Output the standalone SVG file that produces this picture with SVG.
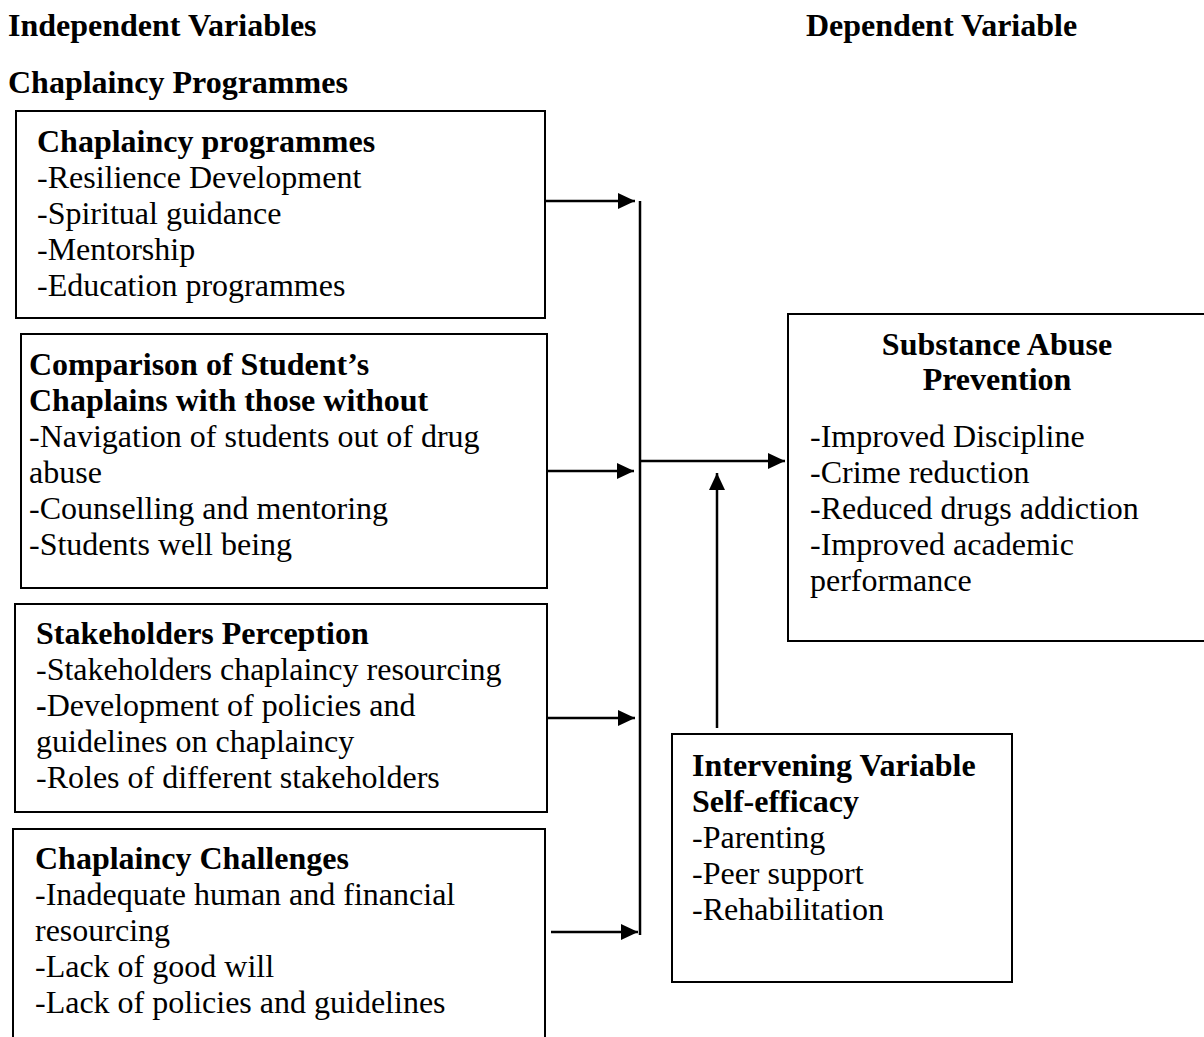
<svg xmlns="http://www.w3.org/2000/svg" width="1204" height="1037" viewBox="0 0 1204 1037">
<style>
text{font-family:"Liberation Serif","Times New Roman",serif;font-size:32px;fill:#000}
.b{font-weight:bold}
.box{fill:none;stroke:#000;stroke-width:2}
.con{stroke:#000;stroke-width:2.5;fill:none}
</style>
<defs>
<marker id="ah" markerUnits="userSpaceOnUse" markerWidth="20" markerHeight="18" refX="17" refY="8" orient="auto">
<path d="M0,0 L17,8 L0,16 z" fill="#000"/>
</marker>
</defs>
<rect width="1204" height="1037" fill="#fff"/>
<g id="headers">
<text class="b" x="8" y="36">Independent Variables</text>
<text class="b" x="806" y="36">Dependent Variable</text>
<text class="b" x="8" y="93">Chaplaincy Programmes</text>
</g>
<g id="node-programmes">
<rect class="box" x="16" y="111" width="529" height="207"/>
<text class="b" x="37" y="152">Chaplaincy programmes</text>
<text x="37" y="188">-Resilience Development</text>
<text x="37" y="224">-Spiritual guidance</text>
<text x="37" y="260">-Mentorship</text>
<text x="37" y="296">-Education programmes</text>
</g>
<g id="node-comparison">
<rect class="box" x="21" y="334" width="526" height="254"/>
<text class="b" x="29" y="375">Comparison of Student’s</text>
<text class="b" x="29" y="411">Chaplains with those without</text>
<text x="29" y="447">-Navigation of students out of drug</text>
<text x="29" y="483">abuse</text>
<text x="29" y="519">-Counselling and mentoring</text>
<text x="29" y="555">-Students well being</text>
</g>
<g id="node-stakeholders">
<rect class="box" x="15" y="604" width="532" height="208"/>
<text class="b" x="36" y="644">Stakeholders Perception</text>
<text x="36" y="680">-Stakeholders chaplaincy resourcing</text>
<text x="36" y="716"><tspan class="b">-</tspan>Development of policies and</text>
<text x="36" y="752">guidelines on chaplaincy</text>
<text x="36" y="788">-Roles of different stakeholders</text>
</g>
<g id="node-challenges">
<rect class="box" x="13" y="829" width="532" height="230"/>
<text class="b" x="35" y="869">Chaplaincy Challenges</text>
<text x="35" y="905">-Inadequate human and financial</text>
<text x="35" y="941">resourcing</text>
<text x="35" y="977">-Lack of good will</text>
<text x="35" y="1013">-Lack of policies and guidelines</text>
</g>
<g id="node-prevention">
<rect class="box" x="788" y="314" width="440" height="327"/>
<text class="b" x="997" y="355" text-anchor="middle">Substance Abuse</text>
<text class="b" x="997" y="390" text-anchor="middle">Prevention</text>
<text x="810" y="447">-Improved Discipline</text>
<text x="810" y="483">-Crime reduction</text>
<text x="810" y="519">-Reduced drugs addiction</text>
<text x="810" y="555">-Improved academic</text>
<text x="810" y="591">performance</text>
</g>
<g id="node-intervening">
<rect class="box" x="672" y="734" width="340" height="248"/>
<text class="b" x="692" y="776">Intervening Variable</text>
<text class="b" x="692" y="812">Self-efficacy</text>
<text x="692" y="848">-Parenting</text>
<text x="692" y="884">-Peer support</text>
<text x="692" y="920">-Rehabilitation</text>
</g>
<g id="connectors">
<line class="con" x1="545" y1="201" x2="635" y2="201" marker-end="url(#ah)"/>
<line class="con" x1="547" y1="471" x2="634" y2="471" marker-end="url(#ah)"/>
<line class="con" x1="547" y1="718" x2="635" y2="718" marker-end="url(#ah)"/>
<line class="con" x1="551" y1="932" x2="638" y2="932" marker-end="url(#ah)"/>
<line class="con" x1="640" y1="201" x2="640" y2="935"/>
<line class="con" x1="640" y1="461" x2="785" y2="461" marker-end="url(#ah)"/>
<line class="con" x1="717" y1="728" x2="717" y2="473" marker-end="url(#ah)"/>
</g>
</svg>
